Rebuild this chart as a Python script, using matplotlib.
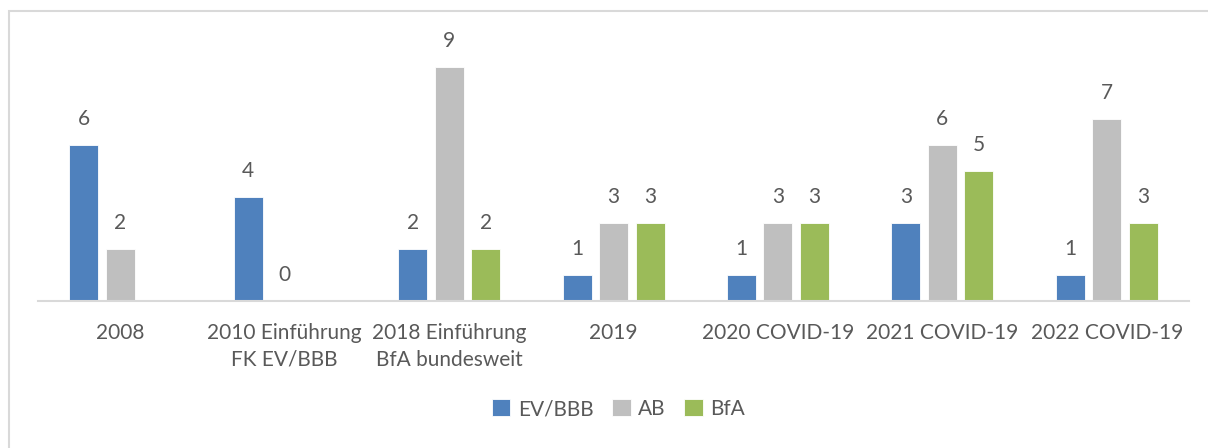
import numpy as np
import matplotlib.pyplot as plt
from matplotlib.patches import Rectangle

plt.rcParams["font.family"] = ["Lato", "DejaVu Sans"]

categories = [
    "2008",
    "2010 Einführung\nFK EV/BBB",
    "2018 Einführung\nBfA bundesweit",
    "2019",
    "2020 COVID-19",
    "2021 COVID-19",
    "2022 COVID-19",
]
ev_bbb = [6, 4, 2, 1, 1, 3, 1]
ab = [2, 0, 9, 3, 3, 6, 7]
bfa = [np.nan, np.nan, 2, 3, 3, 5, 3]

series = [("EV/BBB", ev_bbb, "#4F81BD"), ("AB", ab, "#BFBFBF"), ("BfA", bfa, "#9BBB59")]
text_color = "#595959"

fig = plt.figure(figsize=(12.08, 4.48), dpi=100)
ax = fig.add_axes([0.0315, 0.328, 0.9528, 0.5805])

# light border around the chart area (cropped on right/bottom)
fig.patches.append(
    Rectangle((9 / 1208, -0.1), 1.2, 0.1 + (448 - 11) / 448, transform=fig.transFigure,
              fill=False, edgecolor="#D9D9D9", linewidth=1.5)
)

x = np.arange(len(categories))
width = 0.176
step = 0.222
for i, (name, vals, color) in enumerate(series):
    pos = x + (i - 1) * step
    bars = ax.bar(pos, vals, width, color=color, label=name, edgecolor="white", linewidth=0.6)
    for xp, v in zip(pos, vals):
        if np.isnan(v):
            continue
        ax.text(xp, v + 0.6, f"{int(v)}", ha="center", va="bottom", fontsize=15, color=text_color)

ax.set_xlim(-0.5, len(categories) - 0.5)
ax.set_ylim(0, 10)
ax.set_xticks(x)
ax.set_xticklabels(categories, fontsize=15, color=text_color, linespacing=1.4)
ax.tick_params(axis="x", length=0, pad=16)
ax.set_yticks([])
for s in ["top", "right", "left"]:
    ax.spines[s].set_visible(False)
ax.spines["bottom"].set_color("#D9D9D9")
ax.spines["bottom"].set_linewidth(1.5)

leg = fig.legend(loc="center", bbox_to_anchor=(0.512, 0.087), ncol=3, frameon=False,
                 fontsize=15, handlelength=0.9, handleheight=0.9, handletextpad=0.35,
                 columnspacing=0.9)
for t in leg.get_texts():
    t.set_color(text_color)

fig.savefig("out.png", dpi=100)
